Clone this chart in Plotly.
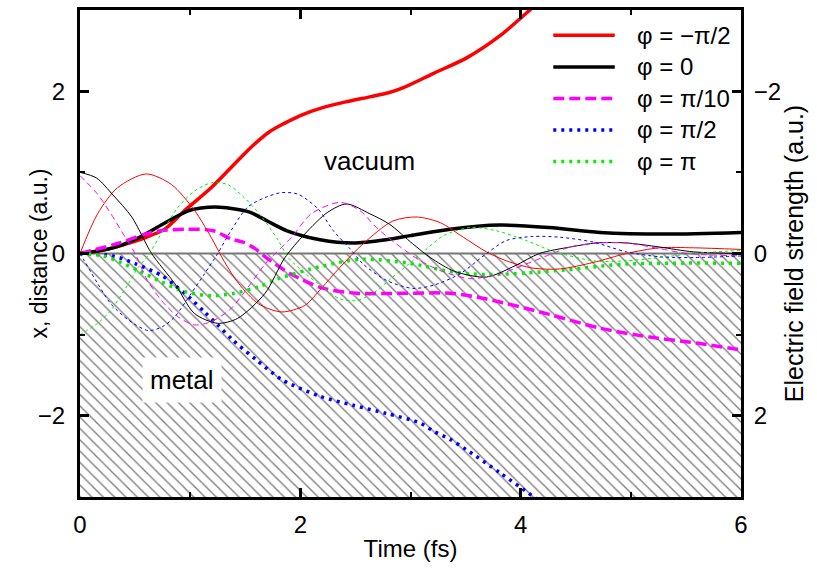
import plotly.graph_objects as go

# ---------------- data ----------------
# Electron trajectories x(t) (left axis, a.u.) for different CEP phases
t_red = [0, 0.21, 0.4, 0.6, 0.77, 0.95, 1.19, 1.40, 1.57, 1.72, 1.85, 2.0, 2.21, 2.42, 2.63, 2.8, 2.93, 3.21, 3.51, 3.81, 4.10, 4.2]
x_red = [0, 0.04, 0.11, 0.2, 0.3, 0.53, 0.81, 1.10, 1.33, 1.50, 1.60, 1.70, 1.80, 1.87, 1.93, 1.98, 2.04, 2.22, 2.41, 2.68, 3.02, 3.14]

t_blk = [0, 0.3, 0.51, 0.75, 0.97, 1.1, 1.27, 1.54, 1.7, 1.88, 2.18, 2.48, 2.78, 3.0, 3.36, 3.81, 4.26, 4.72, 5.32, 6.0]
x_blk = [0, 0.07, 0.18, 0.36, 0.52, 0.56, 0.57, 0.51, 0.40, 0.28, 0.17, 0.13, 0.17, 0.22, 0.30, 0.35, 0.32, 0.26, 0.24, 0.26]

t_mag = [0, 0.36, 0.55, 0.73, 0.97, 1.21, 1.37, 1.48, 1.59, 1.69, 1.91, 2.21, 2.51, 2.93, 3.36, 3.69, 4.26, 4.72, 5.17, 5.63, 6.0]
x_mag = [0, 0.13, 0.22, 0.28, 0.30, 0.28, 0.18, 0.14, 0.06, -0.05, -0.25, -0.43, -0.49, -0.49, -0.49, -0.56, -0.75, -0.92, -1.03, -1.11, -1.19]

t_blu = [0, 0.3, 0.51, 0.74, 0.86, 1.0, 1.13, 1.25, 1.39, 1.60, 1.84, 2.18, 2.48, 2.78, 3.09, 3.21, 3.36, 3.51, 3.81, 4.11, 4.2]
x_blu = [0, -0.03, -0.13, -0.27, -0.39, -0.55, -0.72, -0.88, -1.07, -1.31, -1.56, -1.76, -1.87, -1.97, -2.09, -2.19, -2.29, -2.42, -2.70, -2.99, -3.08]

t_grn = [0, 0.21, 0.37, 0.53, 0.74, 0.95, 1.19, 1.40, 1.62, 1.80, 2.10, 2.35, 2.57, 2.99, 3.39, 3.69, 4.05, 4.42, 4.96, 6.0]
x_grn = [0, -0.03, -0.11, -0.21, -0.35, -0.47, -0.52, -0.49, -0.41, -0.31, -0.19, -0.11, -0.07, -0.12, -0.23, -0.26, -0.24, -0.20, -0.13, -0.12]

# Electric field E(t) (right axis, a.u., axis runs downward)
tf_red = [0, 0.16, 0.34, 0.6, 0.83, 1.04, 1.19, 1.31, 1.44, 1.62, 1.83, 2.04, 2.19, 2.36, 2.57, 2.84, 3.06, 3.27, 3.48, 3.69, 3.87, 4.11, 4.36, 4.66, 4.96, 5.26, 5.57, 6.0]
ef_red = [0, -0.49, -0.81, -0.98, -0.85, -0.53, -0.2, 0.1, 0.37, 0.62, 0.72, 0.64, 0.43, 0.17, -0.12, -0.40, -0.45, -0.38, -0.2, -0.02, 0.09, 0.18, 0.19, 0.11, 0.0, -0.07, -0.07, -0.05]

tf_blk = [0, 0.15, 0.3, 0.47, 0.65, 0.86, 1.04, 1.25, 1.43, 1.68, 1.86, 2.04, 2.25, 2.42, 2.63, 2.81, 3.02, 3.18, 3.4, 3.69, 3.95, 4.17, 4.45, 4.69, 4.96, 5.26, 5.57, 6.0]
ef_blk = [-1.0, -0.93, -0.72, -0.45, 0.0, 0.37, 0.74, 0.86, 0.80, 0.49, 0.05, -0.24, -0.51, -0.61, -0.49, -0.36, -0.12, 0.05, 0.22, 0.29, 0.15, 0.0, -0.08, -0.13, -0.13, -0.08, -0.02, 0.0]

tf_mag = [0, 0.16, 0.28, 0.41, 0.5, 0.6, 0.74, 0.89, 1.04, 1.19, 1.37, 1.55, 1.68, 1.92, 2.1, 2.36, 2.54, 2.69, 2.87, 3.09, 3.27, 3.54, 3.81, 4.05, 4.29, 4.45, 4.69, 4.96, 5.26, 5.51, 6.0]
ef_mag = [-0.96, -0.73, -0.49, -0.2, 0.0, 0.3, 0.58, 0.78, 0.88, 0.84, 0.68, 0.37, 0.13, -0.2, -0.49, -0.63, -0.53, -0.32, -0.12, 0.09, 0.21, 0.31, 0.25, 0.13, 0.0, -0.08, -0.13, -0.13, -0.06, 0.0, 0.03]

tf_blu = [0, 0.04, 0.16, 0.28, 0.44, 0.62, 0.75, 0.86, 1.01, 1.13, 1.25, 1.37, 1.52, 1.68, 1.83, 1.98, 2.16, 2.30, 2.45, 2.57, 2.78, 3.02, 3.21, 3.45, 3.69, 3.87, 4.11, 4.36, 4.66, 4.96, 5.26, 5.57, 6.0]
ef_blu = [0, 0.09, 0.37, 0.62, 0.82, 0.95, 0.90, 0.78, 0.49, 0.25, 0.0, -0.28, -0.57, -0.69, -0.75, -0.73, -0.55, -0.28, -0.06, 0.13, 0.33, 0.43, 0.39, 0.25, 0.0, -0.16, -0.21, -0.2, -0.14, -0.02, 0.04, 0.05, 0.03]

tf_grn = [0, 0.16, 0.28, 0.44, 0.53, 0.62, 0.77, 0.89, 1.04, 1.19, 1.34, 1.49, 1.65, 1.80, 1.89, 2.05, 2.19, 2.36, 2.51, 2.66, 2.84, 3.02, 3.15, 3.30, 3.54, 3.78, 4.05, 4.29, 4.66, 4.96, 5.26, 5.57, 6.0]
ef_grn = [1.0, 0.86, 0.70, 0.37, 0.17, 0.02, -0.32, -0.57, -0.77, -0.87, -0.85, -0.69, -0.45, -0.16, 0.05, 0.25, 0.40, 0.56, 0.58, 0.49, 0.29, 0.09, -0.06, -0.22, -0.32, -0.28, -0.16, -0.03, 0.09, 0.09, 0.05, 0.0, -0.04]

labels = ["φ = −π/2", "φ = 0", "φ = π/10", "φ = π/2", "φ = π"]
colors = ["#ff0000", "#000000", "#ff00ff", "#0000ff", "#00ee00"]

x_range = [0, 6]
y_range = [-3, 3]
x_ticks = [0, 2, 4, 6]
y_ticks = [-2, 0, 2]
e_ticks = [-2, 0, 2]

FONT = "Arial, Liberation Sans, Helvetica, sans-serif"

fig = go.Figure()

# hatched metal region (x < 0)
fig.add_trace(go.Scatter(
    x=[x_range[0], x_range[1], x_range[1], x_range[0], x_range[0]],
    y=[0, 0, y_range[0], y_range[0], 0],
    fill="toself", mode="none", showlegend=False, hoverinfo="skip",
    fillcolor="rgba(0,0,0,0)",
    fillpattern=dict(shape="\\", size=8, solidity=0.17, fgcolor="black", bgcolor="white"),
))
# surface line
fig.add_trace(go.Scatter(x=x_range, y=[0, 0], mode="lines", showlegend=False,
                         line=dict(color="#777777", width=2), hoverinfo="skip"))

# thin field curves (right axis)
thin = [
    (tf_red, ef_red, colors[0], "solid"),
    (tf_blk, ef_blk, colors[1], "solid"),
    (tf_mag, ef_mag, colors[2], "6px,4px"),
    (tf_blu, ef_blu, colors[3], "3px,3px"),
    (tf_grn, ef_grn, colors[4], "3px,3px"),
]
for tt, ee, c, d in thin:
    fig.add_trace(go.Scatter(x=tt, y=ee, yaxis="y2", mode="lines", showlegend=False,
                             line=dict(color=c, width=1, dash=d, shape="spline", smoothing=0.8),
                             hoverinfo="skip"))

# thick trajectories (left axis)
dashes = ["solid", "solid", "11px,5px", "3px,5px", "3px,5px"]
for i, (tt, xx) in enumerate([(t_red, x_red), (t_blk, x_blk), (t_mag, x_mag),
                               (t_blu, x_blu), (t_grn, x_grn)]):
    fig.add_trace(go.Scatter(x=tt, y=xx, mode="lines", name=labels[i], showlegend=False,
                             line=dict(color=colors[i], width=3.5, dash=dashes[i],
                                       shape="spline", smoothing=0.8)))

# legend keys (drawn in paper coordinates)
shapes = []
annotations = []
leg_x0, leg_x1, leg_tx = 0.716, 0.809, 0.84
leg_y0, leg_dy = 0.948, 0.0648
for i, lab in enumerate(labels):
    yy = leg_y0 - i * leg_dy
    shapes.append(dict(type="line", xref="paper", yref="paper", x0=leg_x0, x1=leg_x1, y0=yy, y1=yy,
                       line=dict(color=colors[i], width=3.5, dash=dashes[i])))
    annotations.append(dict(x=leg_tx, y=yy, xref="paper", yref="paper", text=lab, showarrow=False,
                            xanchor="left", yanchor="middle",
                            font=dict(family=FONT, size=24, color="black")))

annotations += [
    dict(x=2.63, y=1.14, xref="x", yref="y", text="vacuum", showarrow=False,
         font=dict(family=FONT, size=26, color="black")),
    dict(x=0.93, y=-1.56, xref="x", yref="y", text="metal", showarrow=False,
         font=dict(family=FONT, size=26, color="black"), bgcolor="white", borderpad=7),
    # left axis title
    dict(x=-0.0635, y=0.5, xref="paper", yref="paper", text="x, distance (a.u.)", showarrow=False,
         textangle=-90, xanchor="center", yanchor="middle",
         font=dict(family=FONT, size=23, color="black")),
]

axis_common = dict(
    showgrid=False, zeroline=False, showline=True, linecolor="black", linewidth=3,
    ticks="inside", tickcolor="black", tickwidth=2.5, ticklen=9,
    tickfont=dict(family=FONT, size=24, color="black"),
)
minor = dict(dtick=1, ticks="inside", ticklen=5, tickwidth=2, tickcolor="black")

fig.update_layout(
    width=817, height=573,
    margin=dict(l=80, r=76, t=7, b=76),
    paper_bgcolor="white", plot_bgcolor="white",
    font=dict(family=FONT, size=24, color="black"),
    showlegend=False,
    xaxis=dict(range=x_range, tickvals=x_ticks, mirror="ticks", minor=minor, ticklabelstandoff=4,
               title=dict(text="Time (fs)", font=dict(family=FONT, size=24), standoff=4),
               **axis_common),
    yaxis=dict(range=y_range, tickvals=y_ticks, minor=minor, ticklabelstandoff=7,
               **axis_common),
    yaxis2=dict(range=[y_range[1], y_range[0]], tickvals=e_ticks, overlaying="y", side="right",
                minor=minor, ticklabelstandoff=5,
                title=dict(text="Electric field strength (a.u.)", font=dict(family=FONT, size=25), standoff=6),
                **axis_common),
    shapes=shapes,
    annotations=annotations,
)

fig.write_html("out.html")
